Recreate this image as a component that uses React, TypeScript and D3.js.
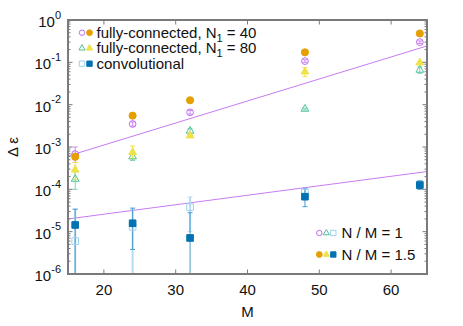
import React, { useRef, useEffect } from 'react';
import * as d3 from 'd3';

// network size M (x axis)
const M_VALUES = [16, 24, 32, 48, 64];
const X_TICKS = [20, 30, 40, 50, 60];
const Y_EXPONENTS = [0, -1, -2, -3, -4, -5, -6];

// Δε values, N/M = 1 (open markers) and N/M = 1.5 (filled markers)
const fc40Open = [6.8e-4, 3.5e-3, 6.6e-3, 0.107, 0.30];
const fc40OpenErr = [[4.3e-4, 1.0e-3], [3.1e-3, 3.9e-3], [6.0e-3, 7.3e-3], [0.1, 0.115], [0.28, 0.32]];
const fc40Filled = [5.9e-4, 5.5e-3, 1.27e-2, 0.172, 0.48];
const fc40FilledErr = [[5.0e-4, 7.0e-4], [5.3e-3, 5.7e-3], [1.22e-2, 1.32e-2], [0.165, 0.18], [0.46, 0.5]];
const fc80Open = [1.75e-4, 5.9e-4, 2.4e-3, 7.9e-3, 0.066];
const fc80OpenErr = [[1.0e-4, 2.6e-4], [4.8e-4, 7.2e-4], [2.1e-3, 2.7e-3], [7.5e-3, 8.3e-3], [0.055, 0.078]];
const fc80Filled = [2.9e-4, 7.5e-4, 1.85e-3, 0.060, 0.098];
const fc80FilledErr = [[1.7e-4, 4.3e-4], [5.3e-4, 1.05e-3], [1.7e-3, 2.0e-3], [0.046, 0.075], [0.092, 0.104]];
const convOpen = [6.0e-6, 1.3e-5, 3.8e-5, 8.5e-5, 1.3e-4];
const convOpenErr = [[1e-7, 3.4e-5], [1e-7, 3.4e-5], [1.0e-5, 6.6e-5], [6.0e-5, 1.0e-4], [1.1e-4, 1.5e-4]];
const convFilled = [1.44e-5, 1.58e-5, 7.1e-6, 6.7e-5, 1.26e-4];
const convFilledErr = [[1e-7, 3.4e-5], [3.8e-6, 3.6e-5], [1e-7, 2.8e-5], [3.9e-5, 1.05e-4], [1.0e-4, 1.6e-4]];

// exponential fits: log10(Δε) = a + b*M
const FIT_FC = { a: -3.993, b: 0.052 };
const FIT_CONV = { a: -5.036, b: 0.0224 };

const WIDTH = 463;
const HEIGHT = 326;
const FONT = 'Liberation Sans, Arial, sans-serif';

const App: React.FC = () => {
  const svgRef = useRef<SVGSVGElement>(null);

  useEffect(() => {
    if (!svgRef.current) return;
    const svg = d3.select(svgRef.current);
    svg.selectAll('*').remove();

    const left = 68, right = 427, top = 20, bottom = 274;
    const x = d3.scaleLinear().domain([15, 65]).range([left, right]);
    const y = d3.scaleLog().domain([1e-6, 1]).range([bottom, top]);

    const series = [
      { vals: fc40Open, err: fc40OpenErr, shape: d3.symbolCircle, size: 36, color: '#bf6ef0', filled: false, errColor: '#c98af2', errW: 1 },
      { vals: fc40Filled, err: fc40FilledErr, shape: d3.symbolCircle, size: 40, color: '#e69f00', filled: true, errColor: '#e69f00', errW: 1 },
      { vals: fc80Open, err: fc80OpenErr, shape: d3.symbolTriangle, size: 26, color: '#4fc29c', filled: false, errColor: '#7fd3b6', errW: 1 },
      { vals: fc80Filled, err: fc80FilledErr, shape: d3.symbolTriangle, size: 26, color: '#efe246', filled: true, errColor: '#efe246', errW: 1 },
      { vals: convOpen, err: convOpenErr, shape: d3.symbolSquare, size: 44, color: '#9dd2f0', filled: false, errColor: '#b3dcf3', errW: 2 },
      { vals: convFilled, err: convFilledErr, shape: d3.symbolSquare, size: 44, color: '#0072b2', filled: true, errColor: '#4a9ccf', errW: 1 },
    ];

    svg.append('defs').append('clipPath').attr('id', 'plotclip')
      .append('rect').attr('x', left).attr('y', top).attr('width', right - left).attr('height', bottom - top);

    const plot = svg.append('g').attr('clip-path', 'url(#plotclip)');

    // fit lines
    [FIT_FC, FIT_CONV].forEach(f => {
      const line = d3.line<number>()
        .x(m => x(m))
        .y(m => y(Math.pow(10, f.a + f.b * m)));
      plot.append('path')
        .datum(x.domain())
        .attr('fill', 'none')
        .attr('stroke', '#c77cf2')
        .attr('stroke-width', 1)
        .attr('d', line);
    });

    // error bars
    series.forEach(s => {
      s.err.forEach((e, i) => {
        const cx = x(M_VALUES[i]);
        const lo = Math.max(e[0], 1e-7);
        plot.append('line')
          .attr('x1', cx).attr('x2', cx)
          .attr('y1', y(lo)).attr('y2', y(e[1]))
          .attr('stroke', s.errColor).attr('stroke-width', s.errW);
        [lo, e[1]].forEach(v => {
          if (v < 1e-6) return;
          plot.append('line')
            .attr('x1', cx - 2.5).attr('x2', cx + 2.5)
            .attr('y1', y(v)).attr('y2', y(v))
            .attr('stroke', s.errColor).attr('stroke-width', 1);
        });
      });
    });

    // markers
    series.forEach(s => {
      const sym = d3.symbol().type(s.shape).size(s.size);
      plot.selectAll(null)
        .data(s.vals)
        .enter()
        .append('path')
        .attr('d', sym)
        .attr('transform', (d, i) => `translate(${x(M_VALUES[i])},${y(d)})`)
        .attr('fill', s.filled ? s.color : 'none')
        .attr('stroke', s.color)
        .attr('stroke-width', 1);
    });

    // frame and ticks
    const axisColor = '#7a7a7a';
    const ticks = svg.append('g').attr('stroke', axisColor).attr('stroke-width', 1);
    X_TICKS.forEach(t => {
      ticks.append('line').attr('x1', x(t)).attr('x2', x(t)).attr('y1', bottom).attr('y2', bottom - 4.5);
      ticks.append('line').attr('x1', x(t)).attr('x2', x(t)).attr('y1', top).attr('y2', top + 4.5);
    });
    Y_EXPONENTS.forEach(p => {
      const v = Math.pow(10, p);
      ticks.append('line').attr('x1', left).attr('x2', left + 4.5).attr('y1', y(v)).attr('y2', y(v));
      ticks.append('line').attr('x1', right).attr('x2', right - 4.5).attr('y1', y(v)).attr('y2', y(v));
      if (p > -6) {
        for (let k = 2; k <= 9; k++) {
          const mv = v * k / 10;
          ticks.append('line').attr('x1', left).attr('x2', left + 2.5).attr('y1', y(mv)).attr('y2', y(mv));
          ticks.append('line').attr('x1', right).attr('x2', right - 2.5).attr('y1', y(mv)).attr('y2', y(mv));
        }
      }
    });
    svg.append('rect')
      .attr('x', left).attr('y', top)
      .attr('width', right - left).attr('height', bottom - top)
      .attr('fill', 'none').attr('stroke', axisColor).attr('stroke-width', 2);

    // tick labels
    const labels = svg.append('g').attr('font-family', FONT).attr('fill', '#111');
    X_TICKS.forEach(t => {
      labels.append('text')
        .attr('x', x(t)).attr('y', 295)
        .attr('text-anchor', 'middle').attr('font-size', 15)
        .text(t);
    });
    Y_EXPONENTS.forEach(p => {
      const txt = labels.append('text')
        .attr('x', 61).attr('y', y(Math.pow(10, p)) + 7)
        .attr('text-anchor', 'end').attr('font-size', 15);
      txt.append('tspan').text('10');
      txt.append('tspan').attr('dy', -8.5).attr('font-size', 11).text(p);
    });

    labels.append('text')
      .attr('x', (left + right) / 2).attr('y', 316.5)
      .attr('text-anchor', 'middle').attr('font-size', 15)
      .text('M');
    labels.append('text')
      .attr('transform', `translate(18,${(top + bottom) / 2}) rotate(-90)`)
      .attr('text-anchor', 'middle').attr('font-size', 15)
      .text('Δ ε');

    // legend (top left)
    const legendRows = [
      { open: series[0], filled: series[1], label: 'fully-connected, N', sub: '1', tail: ' = 40' },
      { open: series[2], filled: series[3], label: 'fully-connected, N', sub: '1', tail: ' = 80' },
      { open: series[4], filled: series[5], label: 'convolutional', sub: '', tail: '' },
    ];
    legendRows.forEach((r, i) => {
      const ly = 32.7 + i * 15.5;
      [r.open, r.filled].forEach((s, j) => {
        svg.append('path')
          .attr('d', d3.symbol().type(s.shape).size(s.size * 0.65)())
          .attr('transform', `translate(${82 + j * 7.5},${ly})`)
          .attr('fill', s.filled ? s.color : 'none')
          .attr('stroke', s.color).attr('stroke-width', 1);
      });
      const t = labels.append('text')
        .attr('x', 96.5).attr('y', ly + 5)
        .attr('font-size', 15);
      t.append('tspan').text(r.label);
      if (r.sub) {
        t.append('tspan').attr('dy', 4).attr('font-size', 11).text(r.sub);
        t.append('tspan').attr('dy', -4).text(r.tail);
      }
    });

    // legend (bottom right)
    const ratioRows = [
      { group: [series[0], series[2], series[4]], label: 'N / M = 1' },
      { group: [series[1], series[3], series[5]], label: 'N / M = 1.5' },
    ];
    ratioRows.forEach((r, i) => {
      const ly = 233 + i * 21.5;
      r.group.forEach((s, j) => {
        svg.append('path')
          .attr('d', d3.symbol().type(s.shape).size(s.size * 0.65)())
          .attr('transform', `translate(${319.3 + j * 7},${ly})`)
          .attr('fill', s.filled ? s.color : 'none')
          .attr('stroke', s.color).attr('stroke-width', 1);
      });
      labels.append('text')
        .attr('x', 341.5).attr('y', ly + 5.3)
        .attr('font-size', 15)
        .text(r.label);
    });
  }, []);

  return (
    <svg
      ref={svgRef}
      width={WIDTH}
      height={HEIGHT}
      style={{ position: 'absolute', left: 0, top: 0, background: '#fff' }}
    />
  );
};

export default App;
